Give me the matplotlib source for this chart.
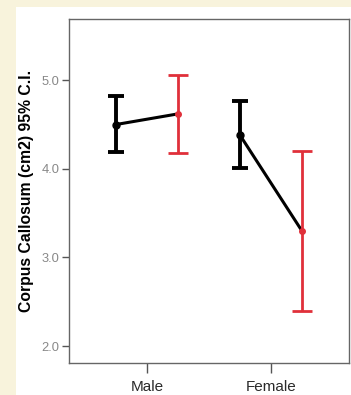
import numpy as np
import matplotlib
matplotlib.use("Agg")
import matplotlib.pyplot as plt
from matplotlib.patches import Rectangle

plt.rcParams['font.family'] = ['Liberation Sans', 'DejaVu Sans']

# group means and 95% CI bounds (black / red series per sex)
sexes = ["Male", "Female"]
black_mean = [4.50, 4.38]
black_low = [4.19, 4.01]
black_high = [4.82, 4.77]
red_mean = [4.62, 3.30]
red_low = [4.18, 2.40]
red_high = [5.06, 4.20]

W, H = 351, 395
fig = plt.figure(figsize=(W / 100, H / 100), dpi=100)
fig.patch.set_facecolor("#f8f3dc")
# white panel behind the chart
fig.patches.append(Rectangle((16 / W, 0), 1 - 16 / W, 1 - 7 / H,
                             transform=fig.transFigure, facecolor="white",
                             edgecolor="none", zorder=-5))

ax = fig.add_axes([69 / W, 1 - 363 / H, 280 / W, 344 / H])
ax.set_zorder(2)
ax.set_facecolor("white")

x = np.arange(len(sexes))
off = 0.25
red = "#e0303a"

for i in range(len(sexes)):
    ax.plot([x[i] - off, x[i] + off], [black_mean[i], red_mean[i]],
            color="black", lw=2.2, zorder=3)

ax.errorbar(x - off, black_mean,
            yerr=[np.subtract(black_mean, black_low), np.subtract(black_high, black_mean)],
            fmt="o", color="black", ms=5, elinewidth=2.8, capsize=6, capthick=2.8, zorder=4)
ax.errorbar(x + off, red_mean,
            yerr=[np.subtract(red_mean, red_low), np.subtract(red_high, red_mean)],
            fmt="o", color=red, ms=4, elinewidth=2, capsize=7, capthick=2, zorder=4)

ax.set_xlim(-0.63, 1.63)
ax.set_ylim(1.81, 5.69)
ax.set_xticks(x)
ax.set_xticklabels(sexes, fontsize=11, color="#2a2a2a")
ax.set_yticks([2.0, 3.0, 4.0, 5.0])
ax.set_yticklabels(["2.0", "3.0", "4.0", "5.0"], fontsize=9.3, color="#888888")
ax.tick_params(axis="y", direction="out", length=5, width=1, color="#555555", pad=2)
ax.tick_params(axis="x", direction="out", length=7, width=1, color="#555555", pad=5)
for s in ax.spines.values():
    s.set_color("#666666")
    s.set_linewidth(1)

ax.set_ylabel("Corpus Callosum (cm2) 95% C.I.", fontsize=11.3, fontweight="bold")
ax.yaxis.set_label_coords(-0.125, 0.5)

fig.savefig("out.png", dpi=100, facecolor=fig.get_facecolor())
